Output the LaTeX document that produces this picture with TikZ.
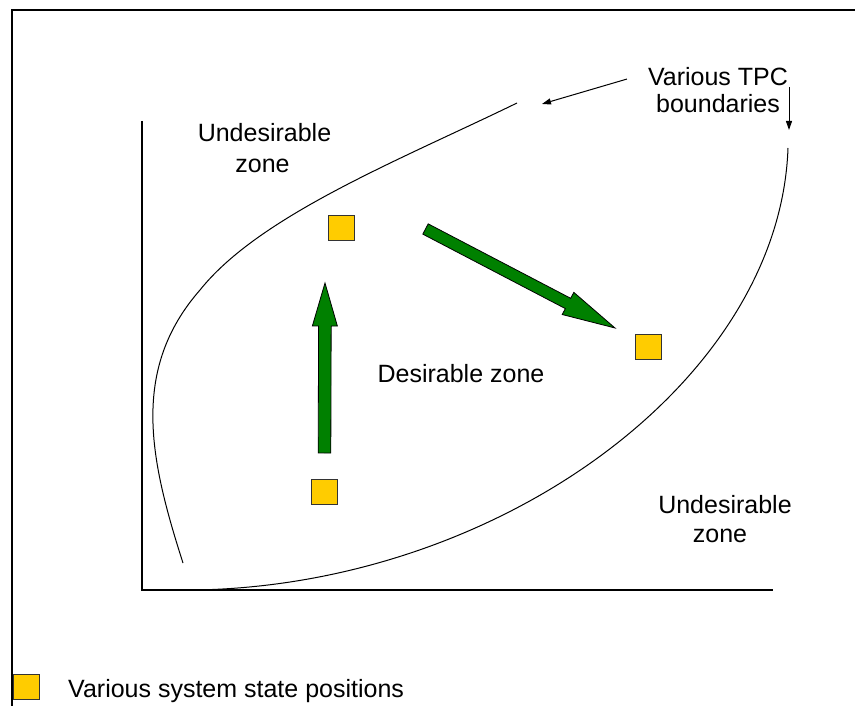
\documentclass[tikz,border=0pt]{standalone}
\usepackage{fontspec}
\setmainfont{Liberation Sans}
\usetikzlibrary{calc,arrows.meta}
\definecolor{stateyellow}{HTML}{FFCC00}
\definecolor{movegreen}{HTML}{008000}
\tikzset{
  statebox/.style={draw=black!80, line width=0.9pt, fill=stateyellow, minimum width=26pt, minimum height=25pt, inner sep=0pt},
  lbl/.style={font=\fontsize{25}{30}\selectfont, inner sep=0pt, anchor=base},
  boundary/.style={line width=1pt},
  axisline/.style={line width=2.6pt},
  frameline/.style={line width=1.8pt},
  pointer/.style={line width=1pt, -{Triangle[length=9pt,width=6pt]}},
  fatarrow/.style={fill=movegreen, draw=black, line width=0.8pt, line join=miter}
}
% tail, tip, half shaft, half head, head length (numbers in pt)
\newcommand{\fatarrowdraw}[5]{%
  \path let \p1=($(#2)-(#1)$), \n1={veclen(\x1,\y1)}, \n2={atan2(\y1,\x1)} in
    \pgfextra{\pgfmathsetmacro{\arrlen}{\n1}\pgfmathsetmacro{\arrang}{\n2}\global\let\arrlen\arrlen\global\let\arrang\arrang};
  \begin{scope}[shift={(#1)}, rotate=\arrang, x=1pt, y=1pt]
    \draw[fatarrow] (0,#3) -- ({\arrlen-#5},#3) -- ({\arrlen-#5},#4) -- (\arrlen,0)
      -- ({\arrlen-#5},-#4) -- ({\arrlen-#5},-#3) -- (0,-#3) -- cycle;
  \end{scope}
}
\begin{document}
\begin{tikzpicture}[x=1pt,y=-1pt]
\useasboundingbox (0,0) rectangle (855,706);
% frame
\draw[frameline] (12,706) -- (12,10) -- (855,10);
% axes
\draw[axisline] (142,121) -- (142,590) -- (773,590);
% boundaries
\draw[boundary] (183,563) .. controls (150,460) and (130,370) .. (200,290)
   .. controls (260,215) and (400,160) .. (517,103);
\draw[boundary] (195,590) .. controls (500,585) and (780,380) .. (788,148);
% labels
\node[lbl] (uzla) at (264.5,142) {Undesirable};
\node[lbl] (uzlb) at (262.5,173) {zone};
\node[lbl] (dz) at (461,382) {Desirable zone};
\node[lbl] (uzra) at (725,513) {Undesirable};
\node[lbl] (uzrb) at (720,542) {zone};
\node[lbl] (tpca) at (718,86) {Various TPC};
\node[lbl] (tpcb) at (718,113) {boundaries};
% pointers
\coordinate (p1) at (542,104);
\coordinate (p2) at (789,130);
\coordinate (p2s) at (789,87);
\draw[pointer] ($(tpca.west)+(-21,2)$) -- (p1);
\draw[pointer] (p2s) -- (p2);
% state squares
\node[statebox] (s1) at (341.5,228) {};
\node[statebox] (s2) at (648,347) {};
\node[statebox] (s3) at (324.5,492) {};
% movement arrows
\coordinate (a1tail) at ($(s3)+(0,-39)$);
\coordinate (a1tip) at ($(s1)+(-16.5,55)$);
\fatarrowdraw{a1tail}{a1tip}{6.3}{12.5}{43}
\coordinate (a2tail) at ($(s1)+(84,1)$);
\coordinate (a2tip) at ($(s2)+(-33,-19)$);
\fatarrowdraw{a2tail}{a2tip}{5.8}{12.5}{53}
% legend
\node[statebox, anchor=north west] (leg) at (13,674) {};
\node[lbl, anchor=base west] (legt) at (68,697) {Various system state positions};
\end{tikzpicture}
\end{document}
